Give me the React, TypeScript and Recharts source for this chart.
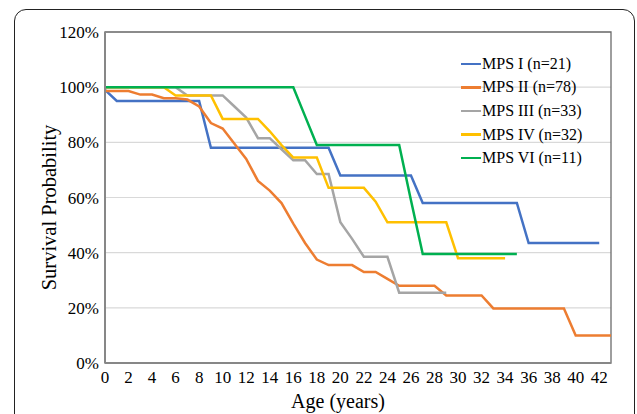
import React from "react";
import {
  LineChart,
  Line,
  XAxis,
  YAxis,
  CartesianGrid,
  Legend,
  ReferenceArea,
} from "recharts";

const ages = [
  0, 1, 2, 3, 4, 5, 6, 7, 8, 9, 10, 11, 12, 13, 14, 15, 16, 17, 18, 19, 20, 21,
  22, 23, 24, 25, 26, 27, 28, 29, 30, 31, 32, 33, 34, 35, 36, 37, 38, 39, 40,
  41, 42, 43,
];

// survival (%) per year of age
const mps1 = [
  99, 95, 95, 95, 95, 95, 95, 95, 95, 78, 78, 78, 78, 78, 78, 78, 78, 78, 78,
  78, 68, 68, 68, 68, 68, 68, 68, 58, 58, 58, 58, 58, 58, 58, 58, 58, 43.5,
  43.5, 43.5, 43.5, 43.5, 43.5, 43.5,
];
const mps2 = [
  98.6, 98.6, 98.6, 97.3, 97.3, 96, 96, 95.5, 93, 87, 85, 79.5, 74, 66, 62.5,
  58, 50.5, 43.5, 37.5, 35.5, 35.5, 35.5, 33, 33, 30.5, 28, 28, 28, 28, 24.5,
  24.5, 24.5, 24.5, 19.8, 19.8, 19.8, 19.8, 19.8, 19.8, 19.8, 10, 10, 10, 10,
];
const mps3 = [
  100, 100, 100, 100, 100, 100, 100, 97, 97, 97, 97, 93, 89, 81.5, 81.5, 77.5,
  73.5, 73.5, 68.5, 68.5, 51, 45, 38.5, 38.5, 38.5, 25.5, 25.5, 25.5, 25.5,
  25.5,
];
const mps4 = [
  100, 100, 100, 100, 100, 100, 97, 97, 97, 97, 88.5, 88.5, 88.5, 88.5, 84, 79,
  74.5, 74.5, 74.5, 63.5, 63.5, 63.5, 63.5, 58.5, 51, 51, 51, 51, 51, 51, 38,
  38, 38, 38, 38,
];
const mps6 = [
  100, 100, 100, 100, 100, 100, 100, 100, 100, 100, 100, 100, 100, 100, 100,
  100, 100, 89.5, 79, 79, 79, 79, 79, 79, 79, 79, 59, 39.5, 39.5, 39.5, 39.5,
  39.5, 39.5, 39.5, 39.5, 39.5,
];

const xTicks = [
  0, 2, 4, 6, 8, 10, 12, 14, 16, 18, 20, 22, 24, 26, 28, 30, 32, 34, 36, 38, 40,
  42,
];
const yTicks = [0, 20, 40, 60, 80, 100, 120];

const series = [
  { key: "mps1", name: "MPS I (n=21)", color: "#4472C4" },
  { key: "mps2", name: "MPS II (n=78)", color: "#ED7D31" },
  { key: "mps3", name: "MPS III (n=33)", color: "#A5A5A5" },
  { key: "mps4", name: "MPS IV (n=32)", color: "#FFC000" },
  { key: "mps6", name: "MPS VI (n=11)", color: "#00B050" },
];

const data = ages.map((age, i) => ({
  age,
  mps1: mps1[i] ?? null,
  mps2: mps2[i] ?? null,
  mps3: mps3[i] ?? null,
  mps4: mps4[i] ?? null,
  mps6: mps6[i] ?? null,
}));

const font = "Liberation Serif, Times New Roman, serif";

const LegendBox = () => (
  <div style={{ fontFamily: font, fontSize: 16, color: "#000" }}>
    {series.map((s) => (
      <div
        key={s.key}
        style={{ display: "flex", alignItems: "center", height: 23.6 }}
      >
        <span
          style={{
            display: "inline-block",
            width: 20,
            height: 2.5,
            background: s.color,
            marginRight: 1,
          }}
        />
        <span style={{ whiteSpace: "nowrap" }}>{s.name}</span>
      </div>
    ))}
  </div>
);

const XTick = (props: any) => (
  <text
    x={props.x}
    y={props.y}
    dy={12}
    textAnchor="middle"
    fontFamily={font}
    fontSize={17}
    fill="#000"
  >
    {props.payload.value}
  </text>
);

const YTick = (props: any) => (
  <text
    x={props.x}
    y={props.y}
    dy={6}
    textAnchor="end"
    fontFamily={font}
    fontSize={17}
    fill="#000"
  >
    {`${props.payload.value}%`}
  </text>
);

const YTitle = (props: any) => {
  const vb = props.viewBox;
  const cx = 49;
  const cy = vb.y + vb.height / 2 + 10;
  return (
    <text
      x={cx}
      y={cy}
      transform={`rotate(-90 ${cx} ${cy})`}
      textAnchor="middle"
      dominantBaseline="central"
      fontFamily={font}
      fontSize={20.5}
      fill="#000"
    >
      Survival Probability
    </text>
  );
};

const XTitle = (props: any) => {
  const vb = props.viewBox;
  return (
    <text
      x={vb.x + vb.width / 2 - 20}
      y={408}
      textAnchor="middle"
      fontFamily={font}
      fontSize={20}
      fill="#000"
    >
      Age (years)
    </text>
  );
};

export default function App() {
  return (
    <div
      style={{
        position: "absolute",
        left: 0,
        top: 0,
        width: 637,
        height: 414,
        overflow: "hidden",
        background: "#fff",
        fontFamily: font,
      }}
    >
      <div
        style={{
          position: "absolute",
          left: 14,
          top: 9,
          width: 621,
          height: 440,
          border: "1px solid #222",
          borderRadius: 12,
          boxSizing: "border-box",
        }}
      />
      <div style={{ position: "absolute", left: 0, top: 0 }}>
        <LineChart
          width={637}
          height={414}
          data={data}
          margin={{ top: 32, right: 26, bottom: 0, left: 0 }}
          style={{ fontFamily: font }}
        >
          <CartesianGrid
            vertical={false}
            horizontal
            stroke="#D9D9D9"
            strokeWidth={1.2}
          />
          <ReferenceArea
            x1={0}
            x2={43}
            y1={0}
            y2={120}
            fill="none"
            stroke="#6b6b6b"
            strokeWidth={1.3}
          />
          <XAxis
            dataKey="age"
            type="number"
            domain={[0, 43]}
            ticks={xTicks}
            interval={0}
            height={51}
            tickLine={false}
            tickSize={0}
            tickMargin={8}
            axisLine={{ stroke: "#878787", strokeWidth: 2 }}
            tick={<XTick />}
            label={{ content: XTitle }}
          />
          <YAxis
            type="number"
            domain={[0, 120]}
            ticks={yTicks}
            width={105}
            tickLine={false}
            tickSize={0}
            tickMargin={6}
            axisLine={{ stroke: "#878787", strokeWidth: 2 }}
            tick={<YTick />}
            label={{ content: YTitle }}
          />
          <Legend
            layout="vertical"
            verticalAlign="middle"
            align="center"
            content={LegendBox}
            wrapperStyle={{ top: 52, left: 461, width: 160 }}
          />
          {series.map((s) => (
            <Line
              key={s.key}
              type="linear"
              dataKey={s.key}
              name={s.name}
              stroke={s.color}
              strokeWidth={2.5}
              dot={false}
              activeDot={false}
              isAnimationActive={false}
            />
          ))}
        </LineChart>
      </div>
    </div>
  );
}
